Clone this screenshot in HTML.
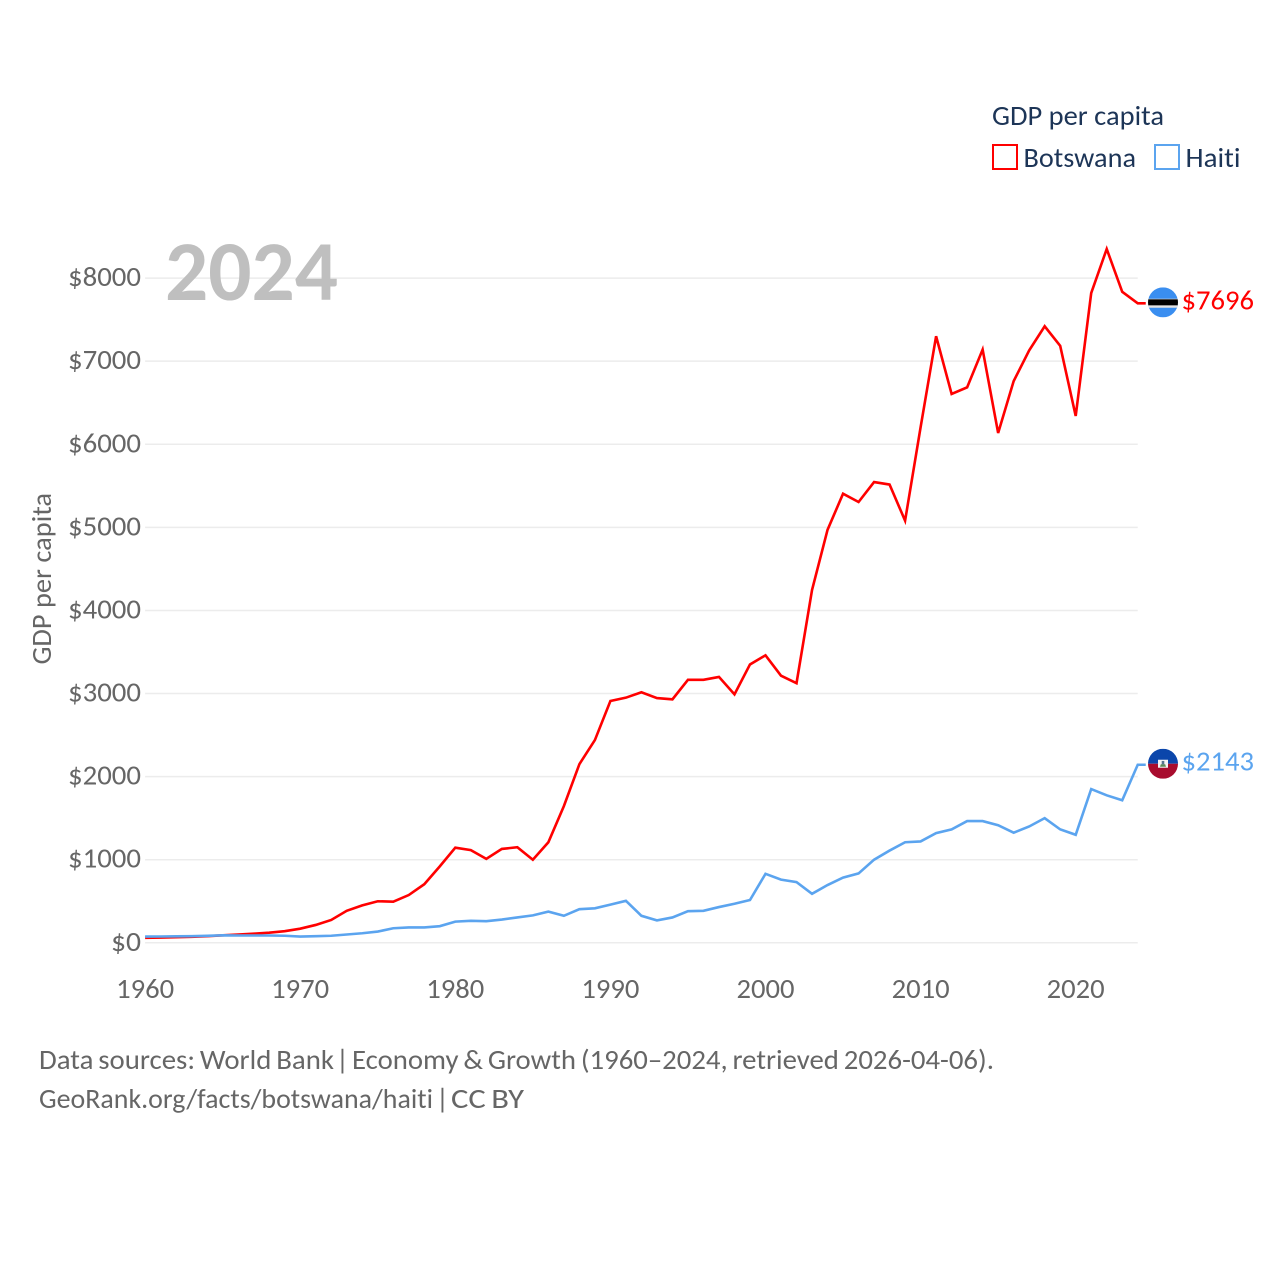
<!DOCTYPE html>
<html lang="en">
<head>
<meta charset="utf-8">
<title>GDP per capita: Botswana and Haiti</title>
<style>
html,body{margin:0;padding:0;background:#fff;}
svg{display:block;}
text{font-family:"Carlito","Lato","Liberation Sans",sans-serif;font-variant-ligatures:none;}
.foot text{word-spacing:-1.6px;}
</style>
</head>
<body>
<svg id="chart" xmlns="http://www.w3.org/2000/svg" width="1280" height="1280" viewBox="0 0 1280 1280">
  <rect x="0" y="0" width="1280" height="1280" fill="#fff"/>
  <g id="grid"></g>
  <g id="yticks"></g>
  <g id="xticks"></g>
  <text transform="translate(51 664.5) rotate(-90)" font-size="28" fill="#666" textLength="171.5" lengthAdjust="spacingAndGlyphs">GDP per capita</text>
  <text x="165" y="300" font-size="85" font-weight="700" fill="#bfbfbf" textLength="173" lengthAdjust="spacingAndGlyphs">2024</text>
  <g id="series"></g>

  <g>
    <text x="992" y="125" font-size="28" fill="#1d3557" textLength="172" lengthAdjust="spacingAndGlyphs">GDP per capita</text>
    <rect x="993" y="145" width="24" height="24" fill="#fff" stroke="#ff0000" stroke-width="2"/>
    <text x="1023.5" y="167" font-size="28" fill="#1d3557" textLength="112.5" lengthAdjust="spacingAndGlyphs">Botswana</text>
    <rect x="1155" y="145" width="24" height="24" fill="#fff" stroke="#5ba4ef" stroke-width="2"/>
    <text x="1185.5" y="167" font-size="28" fill="#1d3557" textLength="55" lengthAdjust="spacingAndGlyphs">Haiti</text>
  </g>

  <defs>
    <clipPath id="clip-bw"><circle cx="0" cy="0" r="15"/></clipPath>
    <clipPath id="clip-ht"><circle cx="0" cy="0" r="15"/></clipPath>
  </defs>
  <g id="flag-bw">
    <g clip-path="url(#clip-bw)">
      <rect x="-15" y="-15" width="30" height="30" fill="#3a8ef0"/>
      <rect x="-15" y="-3.6" width="30" height="9" fill="#e4e4e4"/>
      <rect x="-15" y="-3" width="30" height="6" fill="#000"/>
    </g>
  </g>
  <g id="flag-ht">
    <g clip-path="url(#clip-ht)">
      <rect x="-15" y="-15" width="30" height="15" fill="#0b46ab"/>
      <rect x="-15" y="0" width="30" height="15" fill="#a80c2e"/>
      <rect x="-5" y="-4" width="10" height="8" fill="#f4f4f4"/>
      <path d="M-3 3 L3 3 L2.2 0.5 L-2.2 0.5 Z" fill="#5d8a5a"/>
      <rect x="-1.3" y="-2.8" width="2.6" height="3.4" fill="#55738f"/>
    </g>
  </g>
  <text id="label-bw" x="1181.5" y="309" font-size="28" fill="#ff0000" textLength="72.5" lengthAdjust="spacingAndGlyphs"></text>
  <text id="label-ht" x="1181.5" y="771" font-size="28" fill="#5ba4ef" textLength="72.5" lengthAdjust="spacingAndGlyphs"></text>

  <g class="foot" font-size="28" fill="#666">
    <text x="39" y="1069" textLength="295" lengthAdjust="spacingAndGlyphs">Data sources: World Bank</text>
    <text x="336" y="1069">|</text>
    <text x="352" y="1069" textLength="642" lengthAdjust="spacingAndGlyphs">Economy &amp; Growth (1960–2024, retrieved 2026-04-06).</text>
  </g>
  <g class="foot" font-size="28" fill="#666">
    <text x="39" y="1108" textLength="394" lengthAdjust="spacingAndGlyphs">GeoRank.org/facts/botswana/haiti</text>
    <text x="436" y="1108">|</text>
    <text x="451" y="1108" textLength="73" lengthAdjust="spacingAndGlyphs">CC BY</text>
  </g>
</svg>
<script>
var startYear = 1960;
var botswanaValues = [60,63,67,72,80,90,100,110,122,140,170,215,275,385,450,500,495,575,705,920,1145,1115,1010,1130,1150,1000,1210,1645,2150,2440,2910,2950,3015,2945,2930,3165,3165,3200,2990,3350,3460,3215,3125,4245,4970,5405,5305,5545,5515,5080,6205,7300,6605,6685,7140,6135,6760,7130,7420,7185,6340,7820,8350,7835,7696];
var haitiValues = [75,76,78,80,84,90,88,88,88,85,75,80,85,100,115,135,175,185,185,200,255,265,260,280,305,330,375,325,405,415,460,505,325,270,305,380,385,430,470,515,830,760,730,590,695,785,835,1000,1110,1210,1220,1320,1365,1465,1465,1415,1325,1400,1500,1365,1300,1850,1775,1715,2143];
var yTickValues = [0,1000,2000,3000,4000,5000,6000,7000,8000];
var xTickValues = [1960,1970,1980,1990,2000,2010,2020];

var NS = 'http://www.w3.org/2000/svg';
function xScale(year){ return 145.1 + (year - 1960) * 15.51; }
function yScale(value){ return 942.8 - value * 0.08309; }
function make(tag, parent){ var el = document.createElementNS(NS, tag); parent.appendChild(el); return el; }

var grid = document.getElementById('grid');
var yticks = document.getElementById('yticks');
var xticks = document.getElementById('xticks');
var series = document.getElementById('series');

yTickValues.forEach(function(v){
  var line = make('line', grid);
  
  
  line.setAttribute('x1', xScale(1960));
  line.setAttribute('x2', xScale(2024));
  line.setAttribute('y1', yScale(v));
  line.setAttribute('y2', yScale(v));
  line.setAttribute('stroke', '#ececec');
  line.setAttribute('stroke-width', '1.5');
  var t = make('text', yticks);
  
  
  t.setAttribute('x', 141);
  t.setAttribute('y', yScale(v) + 8);
  t.setAttribute('text-anchor', 'end');
  t.setAttribute('font-size', '28');
  t.setAttribute('fill', '#666');
  t.setAttribute('textLength', String(v).length === 1 ? 30 : 73);
  t.setAttribute('lengthAdjust', 'spacingAndGlyphs');
  t.textContent = '$' + v;
});

xTickValues.forEach(function(y){
  var t = make('text', xticks);
  
  
  t.setAttribute('x', xScale(y));
  t.setAttribute('y', 998);
  t.setAttribute('text-anchor', 'middle');
  t.setAttribute('font-size', '28');
  t.setAttribute('fill', '#666');
  t.setAttribute('textLength', 58);
  t.setAttribute('lengthAdjust', 'spacingAndGlyphs');
  t.textContent = y;
});

function drawSeries(values, color){
  var pts = values.map(function(v, i){ return xScale(startYear + i).toFixed(2) + ',' + yScale(v).toFixed(2); });
  var last = values[values.length - 1];
  var lastYear = startYear + values.length - 1;
  pts.push((xScale(lastYear) + 8).toFixed(2) + ',' + yScale(last).toFixed(2));
  var line = make('polyline', series);
  
  
  line.setAttribute('points', pts.join(' '));
  line.setAttribute('fill', 'none');
  line.setAttribute('stroke', color);
  line.setAttribute('stroke-width', '2.6');
  line.setAttribute('stroke-linejoin', 'miter');
}
drawSeries(botswanaValues, '#ff0000');
drawSeries(haitiValues, '#5ba4ef');

function placeEnd(values, flagId, labelId){
  var last = values[values.length - 1];
  var cy = yScale(last) - 1;
  var cx = 1163;
  document.getElementById(flagId).setAttribute('transform', 'translate(' + cx + ' ' + cy + ')');
  var label = document.getElementById(labelId);
  label.setAttribute('y', cy + 7);
  label.textContent = '$' + last;
}
placeEnd(botswanaValues, 'flag-bw', 'label-bw');
placeEnd(haitiValues, 'flag-ht', 'label-ht');
</script>
</body>
</html>
